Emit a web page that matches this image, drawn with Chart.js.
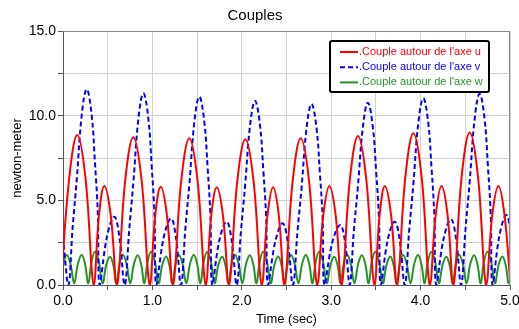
<!DOCTYPE html>
<html lang="fr">
<head>
  <meta charset="UTF-8">
  <script src="https://cdn.jsdelivr.net/npm/chart.js"></script>
  <style>
    body { margin: 0; background: #fff; }
    #couples { display: block; }
  </style>
</head>
<body>
  <canvas id="couples" width="519" height="329"></canvas>
<script>
  // valeurs (temps en s, couple en N.m)
  const redT = [-0.023, 0.069, 0.16, 0.252, 0.343, 0.403, 0.462, 0.533,
    0.604, 0.696, 0.787, 0.879, 0.970, 1.032, 1.093, 1.162,
    1.230, 1.322, 1.413, 1.505, 1.596, 1.658, 1.72, 1.789,
    1.857, 1.949, 2.04, 2.132, 2.223, 2.287, 2.35, 2.414,
    2.477, 2.569, 2.66, 2.752, 2.843, 2.912, 2.98, 3.049,
    3.117, 3.209, 3.30, 3.392, 3.483, 3.542, 3.60, 3.669,
    3.737, 3.829, 3.92, 4.012, 4.103, 4.169, 4.235, 4.301,
    4.367, 4.459, 4.55, 4.642, 4.733, 4.802, 4.87, 4.938, 5.005];
  const redV = [0, 6.29, 8.86, 6.29, 0, 4.15, 5.85, 4.15,
    0, 6.19, 8.72, 6.19, 0, 4.12, 5.80, 4.12,
    0, 6.15, 8.66, 6.15, 0, 4.10, 5.77, 4.10,
    0, 6.11, 8.60, 6.11, 0, 4.10, 5.77, 4.10,
    0, 6.15, 8.66, 6.15, 0, 4.15, 5.85, 4.15,
    0, 6.25, 8.80, 6.25, 0, 4.15, 5.85, 4.15,
    0, 6.36, 8.96, 6.36, 0, 4.15, 5.85, 4.15,
    0, 6.39, 9.00, 6.39, 0, 4.15, 5.85, 4.15, 0];

  const blueT = [-0.052, -0.004,
    0.06, 0.107, 0.154, 0.21, 0.265, 0.32, 0.358, 0.389, 0.41, 0.492, 0.574, 0.63,
    0.69, 0.741, 0.788, 0.844, 0.899, 0.954, 0.992, 1.023, 1.044, 1.126, 1.208, 1.264,
    1.32, 1.367, 1.414, 1.47, 1.525, 1.58, 1.618, 1.649, 1.67, 1.75, 1.83, 1.886,
    1.943, 1.99, 2.037, 2.093, 2.148, 2.203, 2.241, 2.272, 2.293, 2.375, 2.457, 2.513,
    2.572, 2.622, 2.669, 2.725, 2.78, 2.835, 2.873, 2.904, 2.925, 3.012, 3.10, 3.156,
    3.207, 3.252, 3.299, 3.355, 3.41, 3.465, 3.503, 3.534, 3.555, 3.632, 3.71, 3.766,
    3.823, 3.872, 3.919, 3.975, 4.03, 4.085, 4.123, 4.154, 4.175, 4.258, 4.34, 4.396,
    4.453, 4.502, 4.549, 4.605, 4.66, 4.715, 4.753, 4.784, 4.805, 4.882, 4.96, 5.016];
  const blueV = [4.0, 2.86,
    0, 3.35, 6.24, 10.06, 11.56, 10.06, 7.17, 4.28, 0, 2.86, 4.03, 2.86,
    0, 3.28, 6.11, 9.85, 11.32, 9.85, 7.02, 4.19, 0, 2.79, 3.93, 2.79,
    0, 3.22, 6.00, 9.67, 11.12, 9.67, 6.89, 4.11, 0, 2.66, 3.74, 2.66,
    0, 3.15, 5.87, 9.46, 10.87, 9.46, 6.74, 4.02, 0, 2.58, 3.64, 2.58,
    0, 3.10, 5.77, 9.30, 10.69, 9.30, 6.63, 3.96, 0, 2.51, 3.54, 2.51,
    0, 3.12, 5.82, 9.37, 10.77, 9.37, 6.68, 3.98, 0, 2.66, 3.74, 2.66,
    0, 3.20, 5.96, 9.60, 11.03, 9.60, 6.84, 4.08, 0, 2.75, 3.88, 2.75,
    0, 3.28, 6.10, 9.83, 11.30, 9.83, 7.01, 4.18, 0, 2.93, 4.13, 2.93];

  const greenT = [-0.03, 0.006, 0.041, 0.083, 0.125, 0.167, 0.209, 0.246, 0.283, 0.32, 0.358, 0.4, 0.442, 0.484, 0.526, 0.562,
    0.597, 0.633, 0.668, 0.71, 0.752, 0.794, 0.836, 0.873, 0.91, 0.947, 0.985, 1.027, 1.069, 1.111, 1.153, 1.189,
    1.224, 1.26, 1.295, 1.337, 1.379, 1.421, 1.463, 1.5, 1.537, 1.574, 1.612, 1.654, 1.696, 1.738, 1.78, 1.816,
    1.851, 1.887, 1.922, 1.964, 2.006, 2.048, 2.09, 2.127, 2.164, 2.201, 2.239, 2.281, 2.323, 2.365, 2.407, 2.443,
    2.478, 2.514, 2.549, 2.591, 2.633, 2.675, 2.717, 2.754, 2.791, 2.828, 2.866, 2.908, 2.95, 2.992, 3.034, 3.07,
    3.105, 3.141, 3.176, 3.218, 3.26, 3.302, 3.344, 3.381, 3.418, 3.455, 3.493, 3.535, 3.577, 3.619, 3.661, 3.697,
    3.732, 3.768, 3.803, 3.845, 3.887, 3.929, 3.971, 4.008, 4.045, 4.082, 4.12, 4.162, 4.204, 4.246, 4.288, 4.324,
    4.359, 4.395, 4.43, 4.472, 4.514, 4.556, 4.598, 4.635, 4.672, 4.709, 4.747, 4.789, 4.831, 4.873, 4.915, 4.951,
    4.986, 5.022];
  const greenV = [0.1, 1.26, 1.77, 1.26, 0.1, 1.26, 1.77, 1.26, 0.1, 1.40, 1.97, 1.40, 0.1, 1.19, 1.67, 1.19,
    0.1, 1.27, 1.78, 1.27, 0.1, 1.25, 1.76, 1.25, 0.1, 1.40, 1.96, 1.40, 0.1, 1.19, 1.68, 1.19,
    0.1, 1.26, 1.77, 1.26, 0.1, 1.26, 1.77, 1.26, 0.1, 1.39, 1.95, 1.39, 0.1, 1.19, 1.67, 1.19,
    0.1, 1.27, 1.79, 1.27, 0.1, 1.25, 1.76, 1.25, 0.1, 1.40, 1.97, 1.40, 0.1, 1.19, 1.68, 1.19,
    0.1, 1.26, 1.77, 1.26, 0.1, 1.26, 1.77, 1.26, 0.1, 1.40, 1.97, 1.40, 0.1, 1.19, 1.67, 1.19,
    0.1, 1.27, 1.78, 1.27, 0.1, 1.25, 1.76, 1.25, 0.1, 1.40, 1.96, 1.40, 0.1, 1.19, 1.68, 1.19,
    0.1, 1.26, 1.77, 1.26, 0.1, 1.26, 1.77, 1.26, 0.1, 1.39, 1.95, 1.39, 0.1, 1.19, 1.67, 1.19,
    0.1, 1.27, 1.79, 1.27, 0.1, 1.25, 1.76, 1.25, 0.1, 1.40, 1.97, 1.40, 0.1, 1.19, 1.68, 1.19,
    0.1, 1.26];

  const seriesNames = ['.Couple autour de l\'axe u', '.Couple autour de l\'axe v', '.Couple autour de l\'axe w'];
  const seriesColors = ['#ff0000', '#0000ff', '#279327'];

  const xTickValues = [0, 1, 2, 3, 4, 5];
  const xTickLabels = ['0.0', '1.0', '2.0', '3.0', '4.0', '5.0'];
  const yTickValues = [0, 5, 10, 15];
  const yTickLabels = ['0.0', '5.0', '10.0', '15.0'];

  const toPoints = (ts, vs) => ts.map((t, i) => ({ x: t, y: vs[i] }));

  Chart.defaults.font.family = '"Liberation Sans", Arial, sans-serif';
  Chart.defaults.color = '#000';

  // cadre haut/droite + légende encadrée dans la zone du tracé
  const frameAndLegend = {
    id: 'frameAndLegend',
    afterDraw(chart) {
      const ctx = chart.ctx;
      const a = chart.chartArea;
      ctx.save();
      ctx.strokeStyle = '#8a8a8a';
      ctx.lineWidth = 1;
      ctx.beginPath();
      ctx.moveTo(a.left, a.top + 0.5);
      ctx.lineTo(a.right - 0.5, a.top + 0.5);
      ctx.lineTo(a.right - 0.5, a.bottom);
      ctx.stroke();

      const bx = 330, by = 41, bw = 159, bh = 51;
      ctx.fillStyle = '#fff';
      ctx.strokeStyle = '#000';
      ctx.lineWidth = 2;
      ctx.beginPath();
      ctx.roundRect(bx, by, bw, bh, 2);
      ctx.fill();
      ctx.stroke();

      ctx.font = '11px "Liberation Sans", Arial, sans-serif';
      ctx.textBaseline = 'middle';
      seriesNames.forEach((name, i) => {
        const y = by + 11 + i * 15.2;
        ctx.strokeStyle = seriesColors[i];
        ctx.lineWidth = 2;
        ctx.setLineDash(i === 1 ? [5, 3] : []);
        ctx.beginPath();
        ctx.moveTo(bx + 10, y);
        ctx.lineTo(bx + 28, y);
        ctx.stroke();
        ctx.setLineDash([]);
        ctx.fillStyle = seriesColors[i];
        ctx.fillText(name, bx + 29, y);
      });
      ctx.restore();
    }
  };

  const chart = new Chart(document.getElementById('couples'), {
    type: 'line',
    data: {
      datasets: [
        {
          label: seriesNames[0],
          data: toPoints(redT, redV),
          borderColor: seriesColors[0],
          borderWidth: 2,
          pointRadius: 0,
          tension: 0.4,
          clip: 0,
        },
        {
          label: seriesNames[1],
          data: toPoints(blueT, blueV),
          borderColor: seriesColors[1],
          borderWidth: 2,
          borderDash: [5, 3],
          pointRadius: 0,
          tension: 0.4,
          clip: 0,
        },
        {
          label: seriesNames[2],
          data: toPoints(greenT, greenV),
          borderColor: seriesColors[2],
          borderWidth: 2,
          pointRadius: 0,
          tension: 0.4,
          clip: 0,
        }
      ]
    },
    options: {
      responsive: false,
      animation: false,
      layout: { padding: { right: 9 } },
      plugins: {
        legend: { display: false },
        tooltip: { enabled: false },
        title: {
          display: true,
          text: 'Couples',
          color: '#000',
          font: { size: 15, weight: 'normal' },
          padding: { top: 7, bottom: 6 }
        }
      },
      scales: {
        x: {
          type: 'linear',
          min: 0,
          max: 5,
          ticks: {
            stepSize: 0.5,
            autoSkip: false,
            maxRotation: 0,
            padding: 3,
            font: { size: 14 },
            callback: v => {
              const i = xTickValues.indexOf(v);
              return i >= 0 ? xTickLabels[i] : '';
            }
          },
          grid: { color: '#d2d2d2', tickColor: '#555', tickLength: 5 },
          border: { color: '#555' },
          title: { display: true, text: 'Time (sec)', font: { size: 13 }, padding: { top: 0, bottom: 2 } },
          afterFit: s => { s.height = 44; s.paddingLeft = 0; s.paddingRight = 0; }
        },
        y: {
          min: 0,
          max: 15,
          ticks: {
            stepSize: 2.5,
            padding: 2,
            font: { size: 14 },
            callback: v => {
              const i = yTickValues.indexOf(v);
              return i >= 0 ? yTickLabels[i] : '';
            }
          },
          grid: { color: '#d2d2d2', tickColor: '#555', tickLength: 5 },
          border: { color: '#555' },
          title: { display: true, text: 'newton-meter', font: { size: 13 }, padding: { top: 10, bottom: 0 } },
          afterFit: s => { s.width = 63; }
        }
      }
    },
    plugins: [frameAndLegend]
  });
</script>
</body>
</html>
